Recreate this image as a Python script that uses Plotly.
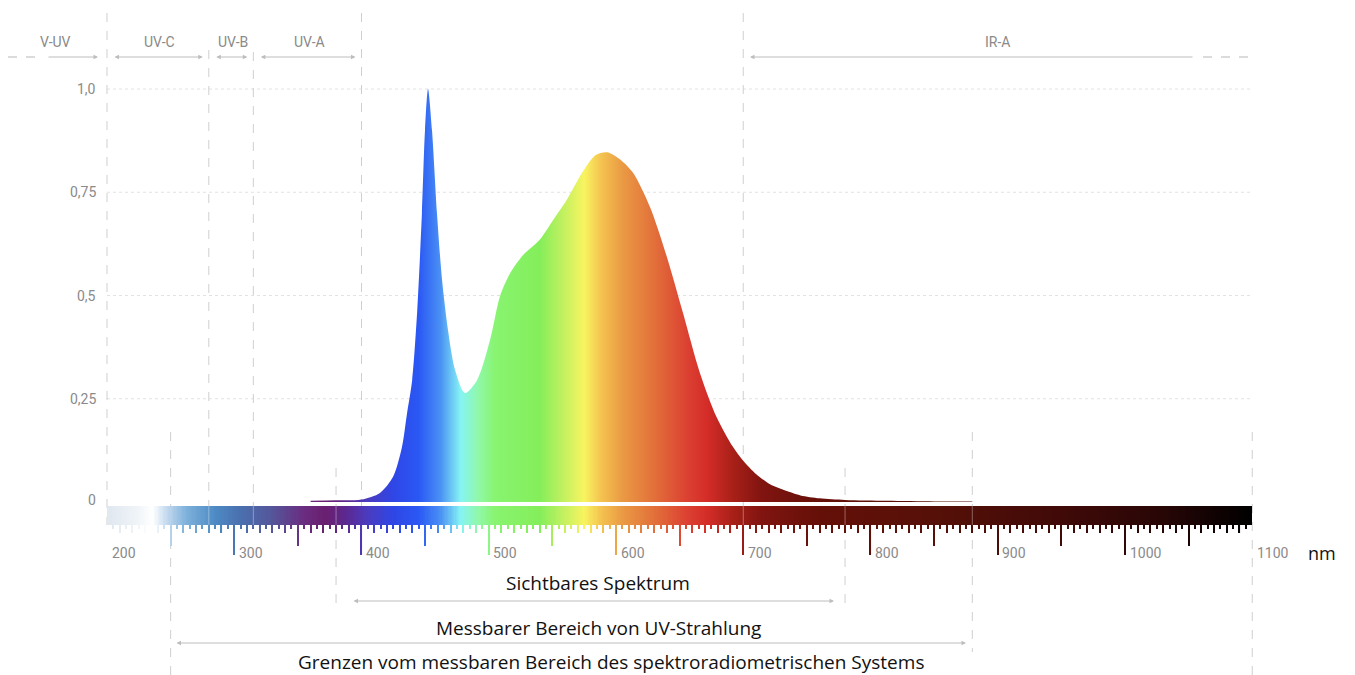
import numpy as np
import plotly.graph_objects as go
from plotly.colors import sample_colorscale

# ---------------- data ----------------
wavelength_nm = [360, 380, 400, 414.5, 424.8, 431.8, 435.8, 439.8, 443.7, 447.5, 449.9, 452.3,
                 455.4, 459.3, 463.3, 468, 473.5, 481.3, 490.8, 501, 509, 517, 527, 540, 550,
                 561, 574, 584, 593, 603, 613.4, 626.7, 640, 652.6, 666, 679, 692, 700, 710, 720,
                 731, 745, 760, 780, 813, 850, 880]
relative_intensity = [0.003, 0.004, 0.006, 0.022, 0.061, 0.133, 0.215, 0.295, 0.458, 0.70, 0.90,
                      1.0, 0.90, 0.70, 0.538, 0.416, 0.32, 0.264, 0.295, 0.392, 0.50, 0.555, 0.598,
                      0.635, 0.68, 0.73, 0.80, 0.84, 0.847, 0.83, 0.797, 0.714, 0.593, 0.458,
                      0.312, 0.206, 0.133, 0.10, 0.068, 0.045, 0.03, 0.016, 0.009, 0.005, 0.003,
                      0.0015, 0.001]

y_tick_values = [1.0, 0.75, 0.5, 0.25, 0.0]
y_tick_labels = ["1,0", "0,75", "0,5", "0,25", "0"]
x_tick_values = [200, 300, 400, 500, 600, 700, 800, 900, 1000, 1100]
x_tick_labels = ["200", "300", "400", "500", "600", "700", "800", "900", "1000", "1100"]

band_names = ["UV-C", "UV-B", "UV-A"]
band_start = [200, 280, 315]
band_end = [280, 315, 400]

range_labels = ["Sichtbares Spektrum", "Messbarer Bereich von UV-Strahlung",
                "Grenzen vom messbaren Bereich des spektroradiometrischen Systems"]

spectrum_nm = [200, 222, 236, 246, 262, 285, 305, 330, 355, 372, 390, 405, 425, 445, 462, 478,
               492, 505, 540, 558, 575, 588, 605, 630, 655, 672, 692, 715, 760, 850, 950, 1030, 1100]
spectrum_colors = ["#dfe7ef", "#eef3f7", "#ffffff", "#c8dcef", "#7fb2dc", "#4d8ac4", "#4a70ae",
                   "#55559a", "#6a2c80", "#6a1f6e", "#5a2a96", "#4a3cc0", "#2f46e6", "#2a58f4",
                   "#4a90f4", "#86f4f4", "#90f8a8", "#88f470", "#84ee5a", "#c0f060", "#f8f460",
                   "#f4c450", "#ea9a44", "#e2703a", "#dc4232", "#d42c28", "#a82018", "#801410",
                   "#641008", "#561008", "#400a08", "#280606", "#000000"]

# ---------------- layout helpers (page pixel -> data) ----------------
NM0, NM1 = 200, 1100
X0_PX, PX_PER_NM = 107, 1.2725
Y0_PX, PX_PER_UNIT = 502, 413
PAGE_W, PAGE_H = 1355, 675
BODY_MARGIN = 8  # default page margin around the figure div

def nm_at(px):
    return NM0 + (px - X0_PX) / PX_PER_NM

def val_at(py):
    return (Y0_PX - py) / PX_PER_UNIT

cs = [[(n - NM0) / (NM1 - NM0), c] for n, c in zip(spectrum_nm, spectrum_colors)]

bar_top, bar_bot = val_at(506), val_at(525)
GRID = "#e2e2e2"
DASH = "#cfcfcf"
LBL = "#8a8a8a"
COND = "Roboto, sans-serif"
BODY = "Open Sans, DejaVu Sans, sans-serif"

fig = go.Figure()

# spectrum colour bar
edges = np.arange(NM0, NM1 + 1, 1.0)
centers = (edges[:-1] + edges[1:]) / 2
fig.add_trace(go.Heatmap(x=edges, y=[bar_bot, bar_top], z=[centers], colorscale=cs,
                         zmin=NM0, zmax=NM1, showscale=False, hoverinfo="skip"))

# ruler ticks under the bar
tick_nm = np.arange(NM0, NM1 + 1, 5)
tick_len = []
for t in tick_nm:
    if t % 100 == 0:
        tick_len.append(30)
    elif t % 50 == 0:
        tick_len.append(21)
    elif t % 10 == 0:
        tick_len.append(8)
    else:
        tick_len.append(4)
tick_len = np.array(tick_len) / PX_PER_UNIT
tick_cols = sample_colorscale(cs, [(t - NM0) / (NM1 - NM0) for t in tick_nm])
mask = (tick_nm > NM0) & (tick_nm < NM1)
fig.add_trace(go.Bar(x=tick_nm[mask], y=-tick_len[mask], base=bar_bot,
                     width=0.85, marker=dict(color=[c for c, m in zip(tick_cols, mask) if m],
                                             line=dict(width=0)),
                     hoverinfo="skip", showlegend=False))

# spectrum curve
fig.add_trace(go.Scatter(x=wavelength_nm, y=relative_intensity, mode="lines",
                         line=dict(width=0, shape="spline", smoothing=0.8),
                         fill="tozeroy",
                         fillgradient=dict(type="horizontal", colorscale=cs, start=NM0, stop=NM1),
                         hoverinfo="skip", showlegend=False))

shapes = []
# horizontal dotted grid
for v in y_tick_values[:-1]:
    shapes.append(dict(type="line", xref="x", yref="y", x0=NM0, x1=nm_at(1250), y0=v, y1=v,
                       line=dict(color=GRID, width=1, dash="dot"), layer="below"))

# vertical dashed boundaries (top group)
top_lines = [(200, 13, 525), (280, 50, 525), (315, 52, 525), (400, 13, 525), (700, 13, 525)]
for n, ya, yb in top_lines:
    shapes.append(dict(type="line", xref="x", yref="y", x0=n, x1=n, y0=val_at(ya), y1=val_at(yb),
                       line=dict(color=DASH, width=1, dash="dash"), layer="below"))
# vertical dashed boundaries (bottom group)
bot_lines = [(250, 432, 675), (380, 468, 610), (780, 468, 610), (880, 432, 652), (1100, 432, 675)]
for n, ya, yb in bot_lines:
    shapes.append(dict(type="line", xref="x", yref="y", x0=n, x1=n, y0=val_at(ya), y1=val_at(yb),
                       line=dict(color=DASH, width=1, dash="dash"), layer="below"))
# light crossings through the colour bar
for n in [280, 315, 380, 700, 780, 880]:
    shapes.append(dict(type="line", xref="x", yref="y", x0=n, x1=n, y0=bar_bot, y1=bar_top,
                       line=dict(color="rgba(255,255,255,0.35)", width=1), layer="above"))
# dashed continuations of V-UV and IR-A
shapes.append(dict(type="line", xref="x", yref="y", x0=nm_at(8), x1=nm_at(38), y0=val_at(57), y1=val_at(57),
                   line=dict(color=DASH, width=1.5, dash="dash")))
shapes.append(dict(type="line", xref="x", yref="y", x0=nm_at(1203), x1=nm_at(1252), y0=val_at(57), y1=val_at(57),
                   line=dict(color=DASH, width=1.5, dash="dash")))

ann = []
# y labels
for v, t in zip(y_tick_values, y_tick_labels):
    ann.append(dict(x=nm_at(98), y=v + (0.004 if v == 0 else 0), text=t, showarrow=False,
                    xanchor="right", yanchor="middle", font=dict(family=COND, size=14, color=LBL)))
# x labels
for v, t in zip(x_tick_values, x_tick_labels):
    ann.append(dict(x=v + 2.5 / PX_PER_NM, y=val_at(553), text=t, showarrow=False,
                    xanchor="left", yanchor="middle", font=dict(family=COND, size=14, color=LBL)))
ann.append(dict(x=nm_at(1306), y=val_at(553), text="nm", showarrow=False, xanchor="left",
                yanchor="middle", font=dict(family=BODY, size=18, color="#111")))

def arrow(x_head, x_tail, y, both=False):
    return dict(x=x_head, y=y, ax=x_tail, ay=y, axref="x", ayref="y", xref="x", yref="y",
                text="", showarrow=True, arrowhead=2, arrowsize=0.9, arrowwidth=1,
                arrowcolor="#bdbdbd", arrowside="end+start" if both else "end",
                standoff=0, startstandoff=0)

ytxt, yarr = val_at(42), val_at(57)
inset = 6 / PX_PER_NM
for name, a, b in zip(band_names, band_start, band_end):
    ann.append(dict(x=(a + b) / 2 + 1.5, y=ytxt, text=name, showarrow=False,
                    font=dict(family=COND, size=14, color=LBL)))
    ann.append(arrow(b - inset, a + inset, yarr, both=True))
# V-UV
ann.append(dict(x=nm_at(55), y=ytxt, text="V-UV", showarrow=False, font=dict(family=COND, size=14, color=LBL)))
ann.append(arrow(nm_at(98), nm_at(47), yarr))
# IR-A
ann.append(dict(x=900, y=ytxt, text="IR-A", showarrow=False, font=dict(family=COND, size=14, color=LBL)))
ann.append(arrow(nm_at(750), nm_at(1194), yarr))

# bottom range annotations
ann.append(dict(x=nm_at(598), y=val_at(583), text=range_labels[0], showarrow=False,
                font=dict(family=BODY, size=19, color="#111")))
ann.append(arrow(nm_at(834), nm_at(352), val_at(601), both=True))
ann.append(dict(x=nm_at(598), y=val_at(628), text=range_labels[1], showarrow=False,
                font=dict(family=BODY, size=19, color="#111")))
ann.append(arrow(nm_at(966), nm_at(175), val_at(643), both=True))
ann.append(dict(x=nm_at(611), y=val_at(662), text=range_labels[2], showarrow=False,
                font=dict(family=BODY, size=19, color="#111")))

fig.update_layout(
    width=PAGE_W - BODY_MARGIN, height=PAGE_H - BODY_MARGIN,
    margin=dict(l=0, r=0, t=0, b=0, autoexpand=False),
    paper_bgcolor="white", plot_bgcolor="white",
    xaxis=dict(range=[nm_at(BODY_MARGIN), nm_at(PAGE_W)], visible=False, fixedrange=True),
    yaxis=dict(range=[val_at(PAGE_H), val_at(BODY_MARGIN)], visible=False, fixedrange=True),
    shapes=shapes, annotations=ann, showlegend=False, barmode="overlay",
)
fig.write_html("out.html")
